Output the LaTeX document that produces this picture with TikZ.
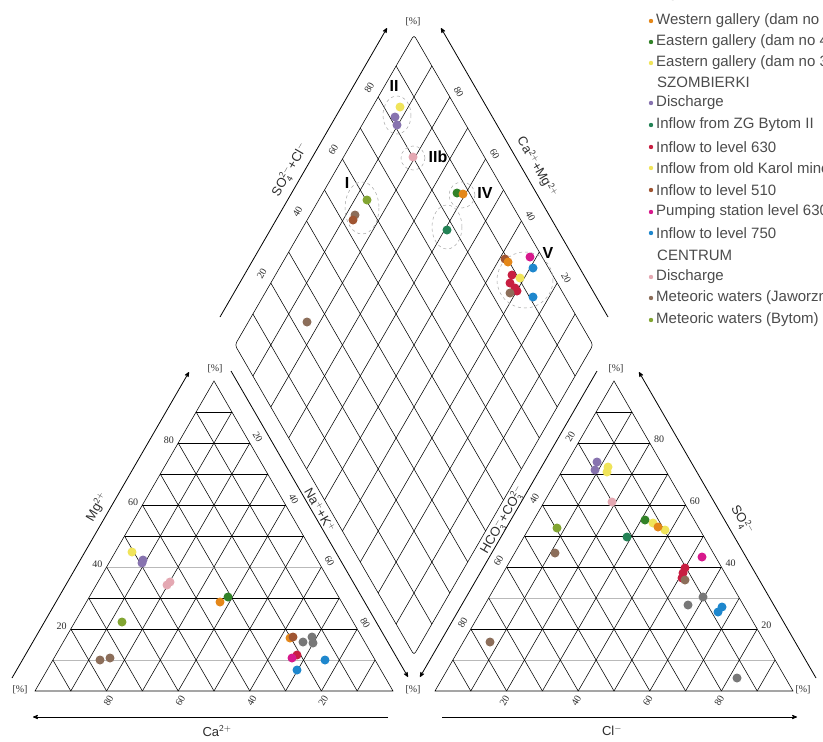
\documentclass[tikz,border=0pt]{standalone}
\usepackage{fontspec}
\setmainfont{Liberation Sans}
\newfontfamily\tickfont{Liberation Serif}
\usetikzlibrary{calc}
\usetikzlibrary{arrows}
\definecolor{ink}{RGB}{45,45,45}
\definecolor{pOlive}{RGB}{130,165,50}
\definecolor{pBrown}{RGB}{140,110,90}
\definecolor{pPurple}{RGB}{135,115,175}
\definecolor{pYellow}{RGB}{240,228,90}
\definecolor{pPink}{RGB}{228,168,178}
\definecolor{pOrange}{RGB}{228,135,25}
\definecolor{pTeal}{RGB}{35,130,85}
\definecolor{pGreen}{RGB}{50,130,40}
\definecolor{pRed}{RGB}{200,30,65}
\definecolor{pMagenta}{RGB}{215,25,140}
\definecolor{pBlue}{RGB}{30,135,205}
\definecolor{pGray}{RGB}{120,120,120}
\definecolor{pRust}{RGB}{160,85,50}

\begin{document}
\begin{tikzpicture}[x=1pt,y=-1pt,>=stealth',
  grd/.style={black,line width=.55pt},
  ax/.style={black,line width=.8pt},
  axlab/.style={font=\fontsize{13}{13}\selectfont,text=ink,inner sep=0},
  tick/.style={font=\tickfont\fontsize{10}{10}\selectfont,text=ink,inner sep=0},
  grp/.style={font=\bfseries\fontsize{16}{16}\selectfont,inner sep=0},
  clus/.style={gray!70,dashed,line width=.5pt},
  leg/.style={font=\fontsize{15}{15}\selectfont,text=ink!85,anchor=west,inner sep=0}]
\clip (0,0) rectangle (823,742);
\fill[white] (0,0) rectangle (823,742);
% corners of the three fields
\coordinate (lA) at (35,691); \coordinate (lB) at (393,691); \coordinate (lC) at (214,381);
\coordinate (rA) at (435,691); \coordinate (rB) at (793,691); \coordinate (rC) at (614,381);
\coordinate (dL) at (235,345); \coordinate (dT) at (414,35);
\coordinate (dR) at (593,345); \coordinate (dB) at (414,655);

% grids
\foreach \i/\lc/\rc in {1/gray!55/gray!55,2/black/black,3/black/gray!55,4/gray!55/black,
                        5/black/black,6/black/black,7/black/black,8/black/black,9/black/black}{
  \pgfmathsetmacro\f{\i/10}
  \pgfmathsetmacro\g{1-\i/10}
  \draw[grd,\lc] ($(lA)!\f!(lC)$) -- ($(lB)!\f!(lC)$);
  \draw[grd] ($(lA)!\f!(lB)$) -- ($(lB)!\g!(lC)$);
  \draw[grd] ($(lA)!\f!(lB)$) -- ($(lA)!\f!(lC)$);
  \draw[grd,\rc] ($(rA)!\f!(rC)$) -- ($(rB)!\f!(rC)$);
  \draw[grd] ($(rA)!\f!(rB)$) -- ($(rB)!\g!(rC)$);
  \draw[grd] ($(rA)!\f!(rB)$) -- ($(rA)!\f!(rC)$);
  \draw[grd] ($(dL)!\f!(dB)$) -- ($(dT)!\f!(dR)$);
  \draw[grd] ($(dT)!\f!(dL)$) -- ($(dR)!\f!(dB)$);
}
\draw[grd] (lA) -- (lB) -- (lC) -- cycle;
\draw[grd] (rA) -- (rB) -- (rC) -- cycle;
\draw[grd,rounded corners=3pt] (dL) -- (dT) -- (dR) -- (dB) -- cycle;

% axis arrows
\coordinate (mgS) at (12,678);   \coordinate (mgE) at (189,372);
\coordinate (naS) at (231,371);  \coordinate (naE) at (408,677);
\coordinate (hcS) at (597,371);  \coordinate (hcE) at (420,677);
\coordinate (soS) at (816,678);  \coordinate (soE) at (639,372);
\coordinate (dlS) at (220,317);  \coordinate (dlE) at (387,28);
\coordinate (drS) at (608,317);  \coordinate (drE) at (441,28);
\coordinate (caS) at (388,717);  \coordinate (caE) at (33,717);
\coordinate (clS) at (442,717);  \coordinate (clE) at (797,717);
\foreach \s in {mg,na,hc,so,dl,dr,ca,cl}
  \draw[ax,->] (\s S) -- (\s E);

\node[axlab,rotate=60] (mgLab) at (97,507) {Mg$^{\mathsf{2+}}$};
\node[axlab,rotate=-60] (naLab) at (320,510) {Na$^{\mathsf{+}}$+K$^{\mathsf{+}}$};
\node[axlab,rotate=60] (hcLab) at (503,520) {HCO$_{\mathsf{3}}^{\mathsf{-}}$+CO$_{\mathsf{3}}^{\mathsf{2-}}$};
\node[axlab,rotate=-60] (soLab) at (742,520) {SO$_{\mathsf{4}}^{\mathsf{2-}}$};
\node[axlab,rotate=60] (dlLab) at (290,170) {SO$_{\mathsf{4}}^{\mathsf{2-}}$+Cl$^{\mathsf{-}}$};
\node[axlab,rotate=-60] (drLab) at (537,167) {Ca$^{\mathsf{2+}}$+Mg$^{\mathsf{2+}}$};
\node[axlab] (caLab) at (217,731) {Ca$^{\mathsf{2+}}$};
\node[axlab] (clLab) at (612,731) {Cl$^{\mathsf{-}}$};

% percent marks
\foreach \n/\x/\y in {pT/413/22,pL1/215/369,pL2/20/690,pM/413/690,pR1/616/369,pR2/803/690}
  \node[tick] (\n) at (\x,\y) {[\%]};

% tick values
\foreach \v in {20,40,60,80}{
  \pgfmathsetmacro\f{\v/100}
  \pgfmathtruncatemacro\w{100-\v}
  \node[tick,anchor=east] (lm\v) at ($(lA)!\f!(lC)+(-4,-3)$) {\v};
  \node[tick,rotate=-60] (ln\v) at ($(lB)!\f!(lC)+(8,-6)$) {\w};
  \node[tick,rotate=60] (lc\v) at ($(lB)!\f!(lA)+(2,10)$) {\v};
  \node[tick,anchor=west] (rs\v) at ($(rB)!\f!(rC)+(4,-4)$) {\v};
  \node[tick,rotate=60] (rh\v) at ($(rA)!\f!(rC)+(-8,-6)$) {\w};
  \node[tick,rotate=60] (rl\v) at ($(rA)!\f!(rB)+(-2,10)$) {\v};
  \node[tick,rotate=60] (ds\v) at ($(dT)!\f!(dL)+(-9,-9)$) {\w};
  \node[tick,rotate=-60] (dc\v) at ($(dT)!\f!(dR)+(9,-5)$) {\w};
}

% groups in the diamond
\draw[clus] (397,115) ellipse (14 and 19);
\draw[clus] (413,158) circle (12);
\draw[clus] (362,208) ellipse (17 and 26);
\draw[clus] (462,195) circle (13);
\draw[clus] (447,227) ellipse (15 and 22);
\draw[clus] (525,280) circle (28);
\node[grp] (gII) at (394,86) {II};
\node[grp] (gIIb) at (438,157) {IIb};
\node[grp] (gI) at (347,183) {I};
\node[grp] (gIV) at (485,193) {IV};
\node[grp] (gV) at (548,253) {V};

% samples
\foreach \x/\y/\c in {
  400/107/pYellow,395/117/pPurple,397/125/pPurple,413/157/pPink,
  367/200/pOlive,355/215/pBrown,353/220/pRust,457/193/pGreen,463/194/pOrange,
  447/230/pTeal,505/259/pRust,508/262/pOrange,530/257/pMagenta,533/268/pBlue,
  512/275/pRed,520/278/pYellow,510/283/pRed,515/288/pRed,517/291/pRed,
  510/293/pBrown,533/297/pBlue,307/322/pBrown,
  132/552/pYellow,143/560/pPurple,142/563/pPurple,167/585/pPink,170/582/pPink,
  220/602/pOrange,228/597/pGreen,122/622/pOlive,100/660/pBrown,110/658/pBrown,
  290/638/pOrange,293/637/pRust,303/642/pGray,312/637/pGray,313/643/pGray,
  297/655/pRed,292/658/pMagenta,325/660/pBlue,297/670/pBlue,
  608/467/pYellow,607/472/pYellow,597/462/pPurple,595/470/pPurple,612/502/pPink,
  645/520/pGreen,665/530/pYellow,653/523/pYellow,658/527/pOrange,627/537/pTeal,
  557/528/pOlive,555/553/pBrown,702/557/pMagenta,685/568/pRed,683/573/pRed,
  682/578/pRed,685/580/pBrown,703/597/pGray,688/605/pGray,722/607/pBlue,
  718/612/pBlue,490/642/pBrown,737/678/pGray}
  \fill[\c] (\x,\y) circle (4.5);

% legend
\node[leg] (hdTop) at (657,-5) {BOBREK};
\node[leg] (hdSzo) at (657,82) {SZOMBIERKI};
\node[leg] (hdCen) at (657,255) {CENTRUM};
\foreach \y/\c/\t [count=\k] in {
  21/pOrange/Western gallery (dam no 1),
  42/pGreen/Eastern gallery (dam no 4),
  63/pYellow/Eastern gallery (dam no 3),
  103/pPurple/Discharge,
  125/pTeal/Inflow from ZG Bytom II,
  147/pRed/Inflow to level 630,
  168/pYellow/Inflow from old Karol mine,
  190/pRust/Inflow to level 510,
  212/pMagenta/Pumping station level 630,
  233/pBlue/Inflow to level 750,
  277/pPink/Discharge,
  298/pBrown/Meteoric waters (Jaworzno),
  320/pOlive/Meteoric waters (Bytom)}{
  \fill[\c] (651,\y) circle (2.2);
  \node[leg] (leg\k) at (656,\y) {\t};
}
\end{tikzpicture}
\end{document}
